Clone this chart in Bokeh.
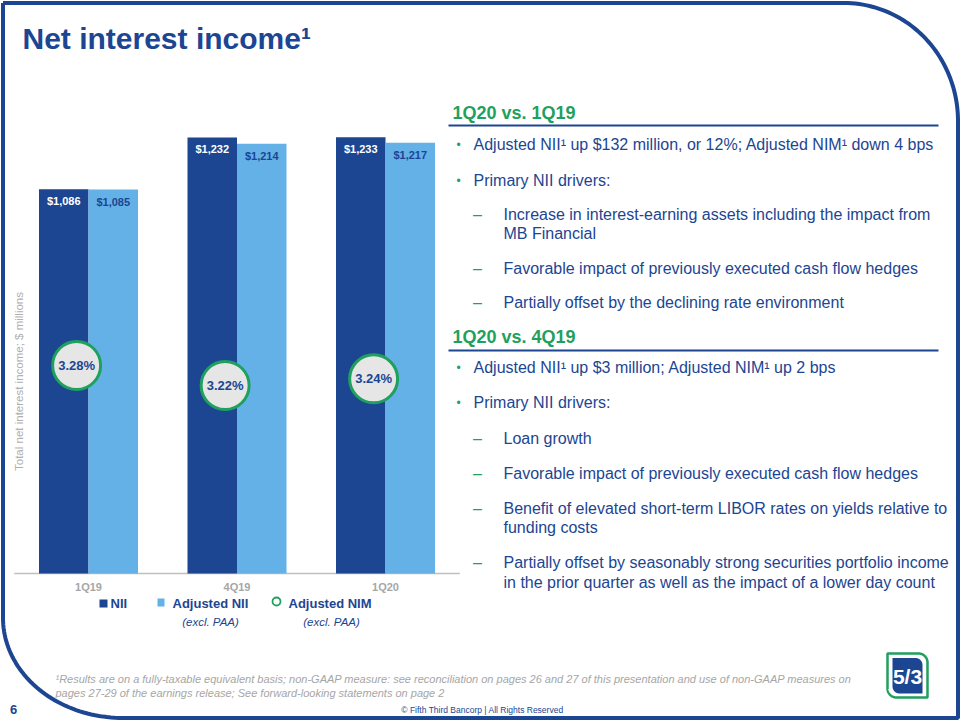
import numpy as np
from bokeh.plotting import figure
from bokeh.models import Range1d, ColumnDataSource
from bokeh.transform import dodge
from bokeh.core.properties import value
from bokeh.embed import file_html
from bokeh.resources import INLINE

# ---------------- data ----------------
quarters = ["1Q19", "4Q19", "1Q20"]
nii = [1086, 1232, 1233]
adj_nii = [1085, 1214, 1217]
adj_nim = [3.28, 3.22, 3.24]

title_text = "Net interest income"
y_title = "Total net interest income; $ millions"
legend_names = ["NII", "Adjusted NII", "Adjusted NIM"]
legend_sub = "(excl. PAA)"

sec1_head = "1Q20 vs. 1Q19"
sec1_lines = [
    ("bullet", "Adjusted NII\u00b9 up $132 million, or 12%; Adjusted NIM\u00b9 down 4 bps"),
    ("bullet", "Primary NII drivers:"),
    ("dash", "Increase in interest-earning assets including the impact from"),
    ("cont", "MB Financial"),
    ("dash", "Favorable impact of previously executed cash flow hedges"),
    ("dash", "Partially offset by the declining rate environment"),
]
sec2_head = "1Q20 vs. 4Q19"
sec2_lines = [
    ("bullet", "Adjusted NII\u00b9 up $3 million; Adjusted NIM\u00b9 up 2 bps"),
    ("bullet", "Primary NII drivers:"),
    ("dash", "Loan growth"),
    ("dash", "Favorable impact of previously executed cash flow hedges"),
    ("dash", "Benefit of elevated short-term LIBOR rates on yields relative to"),
    ("cont", "funding costs"),
    ("dash", "Partially offset by seasonably strong securities portfolio income"),
    ("cont", "in the prior quarter as well as the impact of a lower day count"),
]
footnote = [
    "\u00b9Results are on a fully-taxable equivalent basis; non-GAAP measure: see reconciliation on pages 26 and 27 of this presentation and use of non-GAAP measures on",
    "pages 27-29 of the earnings release; See forward-looking statements on page 2",
]
copyright_text = "\u00a9 Fifth Third Bancorp | All Rights Reserved"
page_no = "6"

# ---------------- style / layout ----------------
W, H = 960, 720
FONT = "Liberation Sans"
NAVY = "#1C4592"
LIGHT = "#64B1E8"
GREEN = "#1FA05E"
GREY = "#A6A6A6"

CX0, PITCH = 88.0, 148.5        # px of first group centre, px per category
BASE, K = 573.0, 0.3539         # px of zero line, px per $ million
NIM_LO, NIM_HI = 2.215, 4.375   # secondary (NIM %) range over the frame
BW = 1.0 / 3.0                  # bar width in category units

p = figure(width=W, height=H, x_range=Range1d(0, W), y_range=Range1d(H, 0),
           output_backend="svg", toolbar_location=None, min_border=0,
           x_axis_location=None, y_axis_location=None)
p.grid.visible = False
p.outline_line_color = None
p.background_fill_color = "white"
p.border_fill_color = "white"

p.extra_x_ranges = {"cx": Range1d(-CX0 / PITCH, (W - CX0) / PITCH)}
p.extra_y_ranges = {"cy": Range1d((BASE - H) / K, BASE / K),
                    "ny": Range1d(NIM_LO, NIM_HI)}


def txt(x, y, s, size, color, style="normal", align="left", baseline="middle",
        angle=0.0, font=FONT):
    p.text(x=[x], y=[y], text=[s], text_font=value(font), text_font_size=f"{size}px",
           text_color=color, text_font_style=style, text_align=align,
           text_baseline=baseline, angle=angle)


def rpath(x0, y0, x1, y1, tl=(0, 0), tr=(0, 0), br=(0, 0), bl=(0, 0), n=48):
    xs, ys = [], []

    def arc(cx, cy, rx, ry, a0, a1):
        t = np.linspace(a0, a1, n)
        xs.extend(cx + rx * np.cos(t))
        ys.extend(cy + ry * np.sin(t))

    arc(x0 + tl[0], y0 + tl[1], tl[0], tl[1], np.pi, 1.5 * np.pi)
    arc(x1 - tr[0], y0 + tr[1], tr[0], tr[1], 1.5 * np.pi, 2 * np.pi)
    arc(x1 - br[0], y1 - br[1], br[0], br[1], 0, 0.5 * np.pi)
    arc(x0 + bl[0], y1 - bl[1], bl[0], bl[1], 0.5 * np.pi, np.pi)
    xs.append(xs[0]); ys.append(ys[0])
    return xs, ys


# ---------------- slide frame ----------------
bx, by = rpath(2.5, 2.5, 957.5, 717.5, tr=(114, 118), bl=(120, 100))
p.line(bx, by, line_color=NAVY, line_width=4)

txt(22, 38, title_text + "\u00b9", 30, NAVY, style="bold")

# ---------------- chart ----------------
src = ColumnDataSource(dict(
    idx=list(range(len(quarters))), q=quarters, nii=nii, adj=adj_nii, nim=adj_nim,
    nl=[f"${v:,}" for v in nii], al=[f"${v:,}" for v in adj_nii],
    ml=[f"{v:.2f}%" for v in adj_nim],
))
ck = dict(source=src, x_range_name="cx", y_range_name="cy")

p.segment(x0=-0.5, x1=len(quarters) - 0.5, y0=0, y1=0, line_color="#BFBFBF",
          line_width=1.5, x_range_name="cx", y_range_name="cy")
p.vbar(x=dodge("idx", -BW / 2), top="nii", bottom=0, width=BW, fill_color=NAVY,
       line_color=None, **ck)
p.vbar(x=dodge("idx", BW / 2), top="adj", bottom=0, width=BW, fill_color=LIGHT,
       line_color=None, **ck)
p.text(x=dodge("idx", -BW / 2), y="nii", text="nl", y_offset=12, text_align="center",
       text_baseline="middle", text_color="white", text_font_style="bold",
       text_font_size="11px", text_font=value(FONT), **ck)
p.text(x=dodge("idx", BW / 2), y="adj", text="al", y_offset=12, text_align="center",
       text_baseline="middle", text_color=NAVY, text_font_style="bold",
       text_font_size="11px", text_font=value(FONT), **ck)
p.text(x="idx", y=0, text="q", y_offset=13, text_align="center",
       text_baseline="middle", text_color=GREY, text_font_style="bold",
       text_font_size="11px", text_font=value(FONT), **ck)

nk = dict(source=src, x_range_name="cx", y_range_name="ny")
p.scatter(x=dodge("idx", -0.08), y="nim", marker="circle", size=48,
          fill_color="#E6E6E6", line_color=GREEN, line_width=3, **nk)
p.text(x=dodge("idx", -0.08), y="nim", text="ml", text_align="center",
       text_baseline="middle", text_color=NAVY, text_font_style="bold",
       text_font_size="13px", text_font=value(FONT), **nk)

txt(18, 381, y_title, 11.5, "#AFAFAF", align="center", angle=np.pi / 2)

# legend
p.quad(left=[99], right=[107], top=[599], bottom=[607], fill_color=NAVY, line_color=None)
txt(110, 603, legend_names[0], 13, NAVY, style="bold")
p.quad(left=[157], right=[164], top=[598], bottom=[606], fill_color=LIGHT, line_color=None)
txt(172, 603, legend_names[1], 13, NAVY, style="bold")
txt(210, 621, legend_sub, 11.5, NAVY, style="italic", align="center")
p.scatter(x=[276], y=[601], marker="circle", size=8, fill_color="white",
          line_color=GREEN, line_width=1.8)
txt(288, 603, legend_names[2], 13, NAVY, style="bold")
txt(331, 621, legend_sub, 11.5, NAVY, style="italic", align="center")

# ---------------- right text panel ----------------
def section(head, lines, y_head, y_rule, ys):
    txt(452, y_head, head, 18, GREEN, style="bold")
    p.segment(x0=[448], x1=[938], y0=[y_rule], y1=[y_rule], line_color=NAVY, line_width=2)
    for (kind, s), y in zip(lines, ys):
        if kind == "bullet":
            txt(458, y, "\u2022", 12, GREEN, align="center")
            txt(473, y, s, 16, NAVY)
        else:
            if kind == "dash":
                txt(477, y, "\u2013", 16, GREEN, align="center")
            txt(503, y, s, 16, NAVY)


section(sec1_head, sec1_lines, 112, 125, [144, 180, 214, 233, 268, 302])
section(sec2_head, sec2_lines, 336, 350, [367, 402, 438, 473, 508, 527, 562, 582])

# ---------------- footer ----------------
txt(55, 678, footnote[0], 11, GREY, style="italic")
txt(55, 692, footnote[1], 11, GREY, style="italic")
txt(482, 709, copyright_text, 8.5, NAVY, align="center")
txt(13, 709, page_no, 13, NAVY, style="bold", align="center")

# logo
lx, ly = rpath(887, 653, 927, 697, tr=(9, 9), bl=(9, 9))
p.patch(lx, ly, fill_color="white", line_color=GREEN, line_width=2.5)
ix, iy = rpath(892, 657.5, 922, 693, tr=(7, 7), bl=(7, 7))
p.patch(ix, iy, fill_color=NAVY, line_color=None)
txt(907, 676, "5/3", 21, "white", style="bold", align="center")

open("out.html", "w").write(file_html(p, INLINE))
